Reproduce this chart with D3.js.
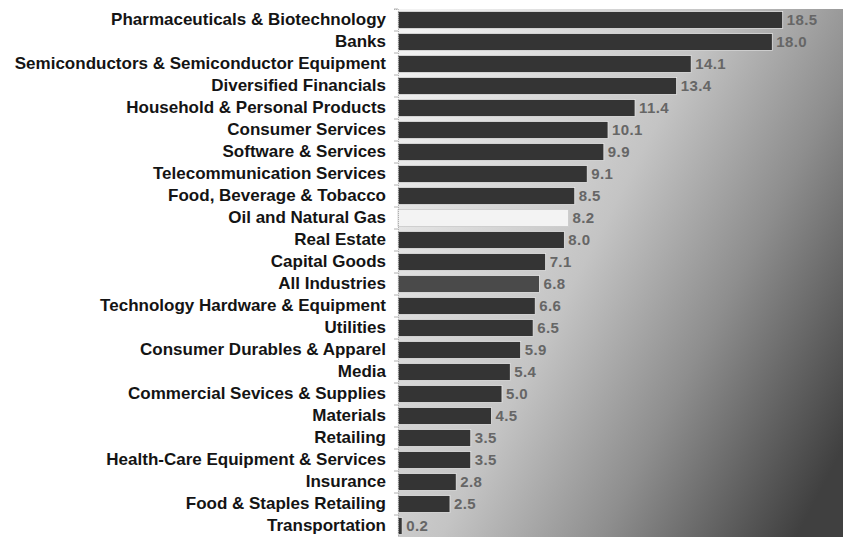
<!DOCTYPE html>
<html>
<head>
<meta charset="utf-8">
<script src="https://cdn.jsdelivr.net/npm/d3@7"></script>
<style>
  html, body { margin: 0; padding: 0; background: #ffffff; }
  svg { display: block; }
</style>
</head>
<body>
<svg id="chart" width="843" height="537"></svg>
<script>
// Industry categories, top to bottom
const industries = [
  "Pharmaceuticals & Biotechnology",
  "Banks",
  "Semiconductors & Semiconductor Equipment",
  "Diversified Financials",
  "Household & Personal Products",
  "Consumer Services",
  "Software & Services",
  "Telecommunication Services",
  "Food, Beverage & Tobacco",
  "Oil and Natural Gas",
  "Real Estate",
  "Capital Goods",
  "All Industries",
  "Technology Hardware & Equipment",
  "Utilities",
  "Consumer Durables & Apparel",
  "Media",
  "Commercial Sevices & Supplies",
  "Materials",
  "Retailing",
  "Health-Care Equipment & Services",
  "Insurance",
  "Food & Staples Retailing",
  "Transportation"
];

// Value per industry
const values = [18.5, 18.0, 14.1, 13.4, 11.4, 10.1, 9.9, 9.1, 8.5, 8.2, 8.0, 7.1,
                6.8, 6.6, 6.5, 5.9, 5.4, 5.0, 4.5, 3.5, 3.5, 2.8, 2.5, 0.2];

// Categories drawn with their own fill
const lightBar = "Oil and Natural Gas";
const referenceBar = "All Industries";

const data = industries.map((name, i) => ({ name, value: values[i] }));

const svg = d3.select("#chart");
const W = 843, H = 537;
const margin = { top: 9, right: 0, bottom: 0, left: 398 };

const x = d3.scaleLinear()
  .domain([0, 21.4])
  .range([margin.left, W - margin.right]);

const y = d3.scaleBand()
  .domain(industries)
  .range([margin.top, H - margin.bottom])
  .paddingInner(0.22)
  .paddingOuter(0.11);

// Plot background: light on the left, darkening towards the lower right
const defs = svg.append("defs");
const grad = defs.append("linearGradient")
  .attr("id", "plotBg")
  .attr("x1", 0).attr("y1", 0.1)
  .attr("x2", 1.05).attr("y2", 0.75);
grad.selectAll("stop")
  .data([
    { o: 0, c: "#f2f2f2" },
    { o: 0.45, c: "#c4c4c4" },
    { o: 0.7, c: "#8e8e8e" },
    { o: 1, c: "#404040" }
  ])
  .join("stop")
  .attr("offset", d => d.o)
  .attr("stop-color", d => d.c);

svg.append("rect")
  .attr("x", margin.left)
  .attr("y", margin.top)
  .attr("width", W - margin.left - margin.right)
  .attr("height", H - margin.top - margin.bottom)
  .attr("fill", "url(#plotBg)");

// Bars
svg.append("g")
  .selectAll("rect")
  .data(data)
  .join("rect")
  .attr("x", x(0))
  .attr("y", d => y(d.name))
  .attr("width", d => x(d.value) - x(0))
  .attr("height", y.bandwidth())
  .attr("fill", d => d.name === lightBar ? "#f3f3f3"
                    : d.name === referenceBar ? "#4a4a4a" : "#343434")
  .attr("stroke", d => d.name === lightBar ? "#c8c8c8" : "#e8e8e8")
  .attr("stroke-width", 0.8);

// Value labels at bar ends
svg.append("g")
  .selectAll("text")
  .data(data)
  .join("text")
  .attr("x", d => x(d.value) + 4)
  .attr("y", d => y(d.name) + y.bandwidth() / 2)
  .attr("dy", "0.36em")
  .attr("font-family", "Liberation Sans, Arial, sans-serif")
  .attr("font-size", 15)
  .attr("font-weight", "bold")
  .attr("letter-spacing", 0.4)
  .attr("fill", "#666666")
  .text(d => d3.format(".1f")(d.value));

// Category axis
const yAxis = d3.axisLeft(y).tickSize(4).tickPadding(8);
const gAxis = svg.append("g")
  .attr("transform", `translate(${margin.left},0)`)
  .call(yAxis);
gAxis.select(".domain").attr("stroke", "#b0b0b0").attr("stroke-dasharray", "1,1");
gAxis.selectAll(".tick line").attr("stroke", "#b0b0b0")
  .attr("transform", `translate(0,${-(y.step() / 2)})`);
gAxis.selectAll(".tick text")
  .attr("font-family", "Liberation Sans, Arial, sans-serif")
  .attr("font-size", 17)
  .attr("font-weight", "bold")
  .attr("fill", "#141414");
</script>
</body>
</html>
